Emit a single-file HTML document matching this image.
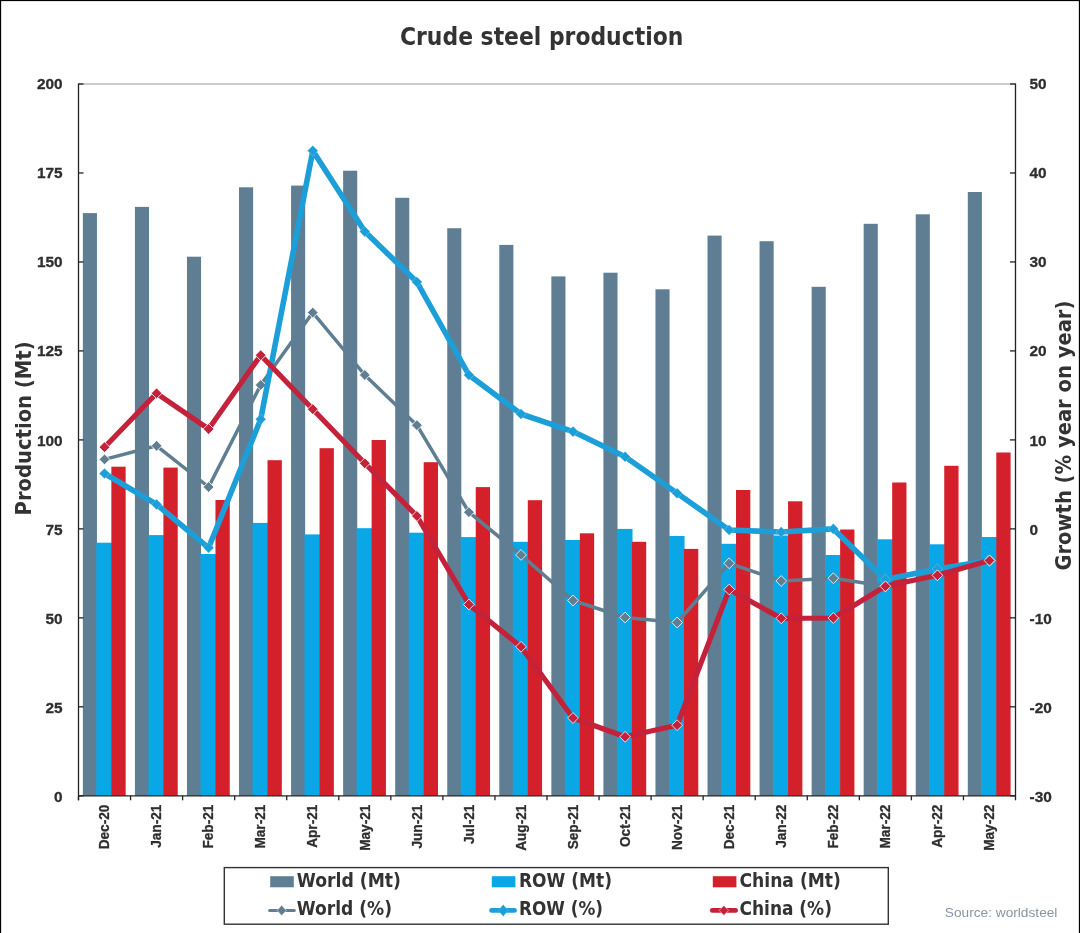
<!DOCTYPE html>
<html lang="en"><head><meta charset="utf-8"><title>Crude steel production</title>
<style>html,body{margin:0;padding:0;background:#fff}body{width:1080px;height:933px;overflow:hidden}svg{display:block}.ax{font-family:"Liberation Sans",sans-serif;font-weight:bold;fill:#2e2e2e;stroke:#2e2e2e;stroke-width:0.3px}.hd{font-family:"DejaVu Sans Condensed","DejaVu Sans",sans-serif;font-weight:bold;fill:#333}</style></head><body>
<svg width="1080" height="933" viewBox="0 0 1080 933">
<rect x="0" y="0" width="1080" height="933" fill="#ffffff"/>
<rect x="0" y="0" width="1.15" height="933" fill="#000"/>
<rect x="0" y="0" width="1080" height="1.1" fill="#000"/>
<rect x="1078.85" y="0" width="1.15" height="933" fill="#000"/>
<text class="hd" x="400" y="45.1" font-size="24.7" textLength="283.3" lengthAdjust="spacingAndGlyphs">Crude steel production</text>
<line x1="78.5" y1="84.0" x2="1015.5" y2="84.0" stroke="#9a9a9a" stroke-width="1.2"/>
<g>
<rect x="82.85" y="213.1" width="14.1" height="582.7" fill="#5f7e94"/>
<rect x="96.35" y="542.7" width="15.6" height="253.1" fill="#09a7e6"/>
<rect x="111.35" y="466.7" width="14.3" height="329.1" fill="#d4202a"/>
<rect x="134.91" y="206.9" width="14.1" height="588.9" fill="#5f7e94"/>
<rect x="148.41" y="535.1" width="15.6" height="260.7" fill="#09a7e6"/>
<rect x="163.41" y="467.6" width="14.3" height="328.2" fill="#d4202a"/>
<rect x="186.96" y="256.7" width="14.1" height="539.1" fill="#5f7e94"/>
<rect x="200.46" y="554" width="15.6" height="241.8" fill="#09a7e6"/>
<rect x="215.46" y="500" width="14.3" height="295.8" fill="#d4202a"/>
<rect x="239.02" y="187.3" width="14.1" height="608.5" fill="#5f7e94"/>
<rect x="252.52" y="522.9" width="15.6" height="272.9" fill="#09a7e6"/>
<rect x="267.52" y="460.2" width="14.3" height="335.6" fill="#d4202a"/>
<rect x="291.07" y="185.6" width="14.1" height="610.2" fill="#5f7e94"/>
<rect x="304.57" y="534.4" width="15.6" height="261.4" fill="#09a7e6"/>
<rect x="319.57" y="448.2" width="14.3" height="347.6" fill="#d4202a"/>
<rect x="343.13" y="170.7" width="14.1" height="625.1" fill="#5f7e94"/>
<rect x="356.63" y="528.2" width="15.6" height="267.6" fill="#09a7e6"/>
<rect x="371.63" y="440" width="14.3" height="355.8" fill="#d4202a"/>
<rect x="395.18" y="197.8" width="14.1" height="598.0" fill="#5f7e94"/>
<rect x="408.68" y="532.7" width="15.6" height="263.1" fill="#09a7e6"/>
<rect x="423.68" y="462.2" width="14.3" height="333.6" fill="#d4202a"/>
<rect x="447.24" y="228.2" width="14.1" height="567.6" fill="#5f7e94"/>
<rect x="460.74" y="537.1" width="15.6" height="258.7" fill="#09a7e6"/>
<rect x="475.74" y="487.1" width="14.3" height="308.7" fill="#d4202a"/>
<rect x="499.29" y="244.9" width="14.1" height="550.9" fill="#5f7e94"/>
<rect x="512.79" y="541.8" width="15.6" height="254.0" fill="#09a7e6"/>
<rect x="527.79" y="500.2" width="14.3" height="295.6" fill="#d4202a"/>
<rect x="551.35" y="276.4" width="14.1" height="519.4" fill="#5f7e94"/>
<rect x="564.85" y="540" width="15.6" height="255.8" fill="#09a7e6"/>
<rect x="579.85" y="533.3" width="14.3" height="262.5" fill="#d4202a"/>
<rect x="603.41" y="272.7" width="14.1" height="523.1" fill="#5f7e94"/>
<rect x="616.91" y="528.9" width="15.6" height="266.9" fill="#09a7e6"/>
<rect x="631.91" y="541.8" width="14.3" height="254.0" fill="#d4202a"/>
<rect x="655.46" y="289.3" width="14.1" height="506.5" fill="#5f7e94"/>
<rect x="668.96" y="536" width="15.6" height="259.8" fill="#09a7e6"/>
<rect x="683.96" y="548.9" width="14.3" height="246.9" fill="#d4202a"/>
<rect x="707.52" y="235.6" width="14.1" height="560.2" fill="#5f7e94"/>
<rect x="721.02" y="543.8" width="15.6" height="252.0" fill="#09a7e6"/>
<rect x="736.02" y="490" width="14.3" height="305.8" fill="#d4202a"/>
<rect x="759.57" y="241.2" width="14.1" height="554.6" fill="#5f7e94"/>
<rect x="773.07" y="535.5" width="15.6" height="260.3" fill="#09a7e6"/>
<rect x="788.07" y="501.3" width="14.3" height="294.5" fill="#d4202a"/>
<rect x="811.63" y="286.8" width="14.1" height="509.0" fill="#5f7e94"/>
<rect x="825.13" y="555" width="15.6" height="240.8" fill="#09a7e6"/>
<rect x="840.13" y="529.5" width="14.3" height="266.3" fill="#d4202a"/>
<rect x="863.68" y="223.8" width="14.1" height="572.0" fill="#5f7e94"/>
<rect x="877.18" y="539.3" width="15.6" height="256.5" fill="#09a7e6"/>
<rect x="892.18" y="482.5" width="14.3" height="313.3" fill="#d4202a"/>
<rect x="915.74" y="214.3" width="14.1" height="581.5" fill="#5f7e94"/>
<rect x="929.24" y="544.3" width="15.6" height="251.5" fill="#09a7e6"/>
<rect x="944.24" y="465.8" width="14.3" height="330.0" fill="#d4202a"/>
<rect x="967.79" y="192.0" width="14.1" height="603.8" fill="#5f7e94"/>
<rect x="981.29" y="537" width="15.6" height="258.8" fill="#09a7e6"/>
<rect x="996.29" y="452.5" width="14.3" height="343.3" fill="#d4202a"/>
</g>
<g stroke="#222" stroke-width="1.3" fill="none">
<line x1="78.5" y1="83.4" x2="78.5" y2="800.3"/>
<line x1="1015.5" y1="83.4" x2="1015.5" y2="796.4"/>
<line x1="78.5" y1="795.8" x2="1015.5" y2="795.8"/>
<line x1="78.5" y1="84.00" x2="83.5" y2="84.00"/>
<line x1="1010.0" y1="84.00" x2="1015.5" y2="84.00"/>
<line x1="78.5" y1="172.97" x2="83.5" y2="172.97"/>
<line x1="1010.0" y1="172.97" x2="1015.5" y2="172.97"/>
<line x1="78.5" y1="261.95" x2="83.5" y2="261.95"/>
<line x1="1010.0" y1="261.95" x2="1015.5" y2="261.95"/>
<line x1="78.5" y1="350.92" x2="83.5" y2="350.92"/>
<line x1="1010.0" y1="350.92" x2="1015.5" y2="350.92"/>
<line x1="78.5" y1="439.90" x2="83.5" y2="439.90"/>
<line x1="1010.0" y1="439.90" x2="1015.5" y2="439.90"/>
<line x1="78.5" y1="528.88" x2="83.5" y2="528.88"/>
<line x1="1010.0" y1="528.88" x2="1015.5" y2="528.88"/>
<line x1="78.5" y1="617.85" x2="83.5" y2="617.85"/>
<line x1="1010.0" y1="617.85" x2="1015.5" y2="617.85"/>
<line x1="78.5" y1="706.82" x2="83.5" y2="706.82"/>
<line x1="1010.0" y1="706.82" x2="1015.5" y2="706.82"/>
<line x1="78.5" y1="795.80" x2="83.5" y2="795.80"/>
<line x1="1010.0" y1="795.80" x2="1015.5" y2="795.80"/>
<line x1="78.50" y1="795.8" x2="78.50" y2="800.3"/>
<line x1="130.56" y1="795.8" x2="130.56" y2="800.3"/>
<line x1="182.61" y1="795.8" x2="182.61" y2="800.3"/>
<line x1="234.67" y1="795.8" x2="234.67" y2="800.3"/>
<line x1="286.72" y1="795.8" x2="286.72" y2="800.3"/>
<line x1="338.78" y1="795.8" x2="338.78" y2="800.3"/>
<line x1="390.83" y1="795.8" x2="390.83" y2="800.3"/>
<line x1="442.89" y1="795.8" x2="442.89" y2="800.3"/>
<line x1="494.94" y1="795.8" x2="494.94" y2="800.3"/>
<line x1="547.00" y1="795.8" x2="547.00" y2="800.3"/>
<line x1="599.06" y1="795.8" x2="599.06" y2="800.3"/>
<line x1="651.11" y1="795.8" x2="651.11" y2="800.3"/>
<line x1="703.17" y1="795.8" x2="703.17" y2="800.3"/>
<line x1="755.22" y1="795.8" x2="755.22" y2="800.3"/>
<line x1="807.28" y1="795.8" x2="807.28" y2="800.3"/>
<line x1="859.33" y1="795.8" x2="859.33" y2="800.3"/>
<line x1="911.39" y1="795.8" x2="911.39" y2="800.3"/>
<line x1="963.44" y1="795.8" x2="963.44" y2="800.3"/>
<line x1="1015.50" y1="795.8" x2="1015.50" y2="800.3"/>
</g>
<polyline points="104.5,459.4 156.6,445.8 208.6,487 260.7,385 312.8,312.6 364.8,375 416.9,425.2 468.9,512.2 521.0,554.9 573.0,600.5 625.1,617.5 677.1,622.5 729.2,563.3 781.2,581 833.3,578.2 885.4,586.3 937.4,575.2 989.5,560.5" fill="none" stroke="#5f7e92" stroke-width="3.5" stroke-linejoin="round" stroke-linecap="round"/>
<path d="M104.5 454.0L109.9 459.4L104.5 464.8L99.1 459.4Z" fill="#5f7e92" stroke="#fff" stroke-opacity="0.8" stroke-width="1.0"/>
<path d="M156.6 440.4L162.0 445.8L156.6 451.2L151.2 445.8Z" fill="#5f7e92" stroke="#fff" stroke-opacity="0.8" stroke-width="1.0"/>
<path d="M208.6 481.6L214.0 487L208.6 492.4L203.2 487Z" fill="#5f7e92" stroke="#fff" stroke-opacity="0.8" stroke-width="1.0"/>
<path d="M260.7 379.6L266.1 385L260.7 390.4L255.3 385Z" fill="#5f7e92" stroke="#fff" stroke-opacity="0.8" stroke-width="1.0"/>
<path d="M312.8 307.2L318.1 312.6L312.8 318.0L307.4 312.6Z" fill="#5f7e92" stroke="#fff" stroke-opacity="0.8" stroke-width="1.0"/>
<path d="M364.8 369.6L370.2 375L364.8 380.4L359.4 375Z" fill="#5f7e92" stroke="#fff" stroke-opacity="0.8" stroke-width="1.0"/>
<path d="M416.9 419.8L422.3 425.2L416.9 430.6L411.5 425.2Z" fill="#5f7e92" stroke="#fff" stroke-opacity="0.8" stroke-width="1.0"/>
<path d="M468.9 506.8L474.3 512.2L468.9 517.6L463.5 512.2Z" fill="#5f7e92" stroke="#fff" stroke-opacity="0.8" stroke-width="1.0"/>
<path d="M521.0 549.5L526.4 554.9L521.0 560.3L515.6 554.9Z" fill="#5f7e92" stroke="#fff" stroke-opacity="0.8" stroke-width="1.0"/>
<path d="M573.0 595.1L578.4 600.5L573.0 605.9L567.6 600.5Z" fill="#5f7e92" stroke="#fff" stroke-opacity="0.8" stroke-width="1.0"/>
<path d="M625.1 612.1L630.5 617.5L625.1 622.9L619.7 617.5Z" fill="#5f7e92" stroke="#fff" stroke-opacity="0.8" stroke-width="1.0"/>
<path d="M677.1 617.1L682.5 622.5L677.1 627.9L671.7 622.5Z" fill="#5f7e92" stroke="#fff" stroke-opacity="0.8" stroke-width="1.0"/>
<path d="M729.2 557.9L734.6 563.3L729.2 568.7L723.8 563.3Z" fill="#5f7e92" stroke="#fff" stroke-opacity="0.8" stroke-width="1.0"/>
<path d="M781.2 575.6L786.6 581L781.2 586.4L775.9 581Z" fill="#5f7e92" stroke="#fff" stroke-opacity="0.8" stroke-width="1.0"/>
<path d="M833.3 572.8L838.7 578.2L833.3 583.6L827.9 578.2Z" fill="#5f7e92" stroke="#fff" stroke-opacity="0.8" stroke-width="1.0"/>
<path d="M885.4 580.9L890.8 586.3L885.4 591.7L880.0 586.3Z" fill="#5f7e92" stroke="#fff" stroke-opacity="0.8" stroke-width="1.0"/>
<path d="M937.4 569.8L942.8 575.2L937.4 580.6L932.0 575.2Z" fill="#5f7e92" stroke="#fff" stroke-opacity="0.8" stroke-width="1.0"/>
<path d="M989.5 555.1L994.9 560.5L989.5 565.9L984.1 560.5Z" fill="#5f7e92" stroke="#fff" stroke-opacity="0.8" stroke-width="1.0"/>
<polyline points="104.5,473.5 156.6,504.4 208.6,547.8 260.7,419.3 312.8,150.7 364.8,231.6 416.9,282 468.9,375 521.0,414 573.0,431.6 625.1,456.7 677.1,493.3 729.2,530 781.2,532 833.3,528.9 885.4,579.5 937.4,569 989.5,560.5" fill="none" stroke="#1c9fd9" stroke-width="5.6" stroke-linejoin="round" stroke-linecap="round"/>
<path d="M104.5 468.2L109.8 473.5L104.5 478.8L99.2 473.5Z" fill="#1c9fd9" stroke="#fff" stroke-opacity="0.35" stroke-width="0.6"/>
<path d="M156.6 499.1L161.9 504.4L156.6 509.7L151.3 504.4Z" fill="#1c9fd9" stroke="#fff" stroke-opacity="0.35" stroke-width="0.6"/>
<path d="M208.6 542.5L213.9 547.8L208.6 553.1L203.3 547.8Z" fill="#1c9fd9" stroke="#fff" stroke-opacity="0.35" stroke-width="0.6"/>
<path d="M260.7 414.0L266.0 419.3L260.7 424.6L255.4 419.3Z" fill="#1c9fd9" stroke="#fff" stroke-opacity="0.35" stroke-width="0.6"/>
<path d="M312.8 145.4L318.1 150.7L312.8 156.0L307.4 150.7Z" fill="#1c9fd9" stroke="#fff" stroke-opacity="0.35" stroke-width="0.6"/>
<path d="M364.8 226.3L370.1 231.6L364.8 236.9L359.5 231.6Z" fill="#1c9fd9" stroke="#fff" stroke-opacity="0.35" stroke-width="0.6"/>
<path d="M416.9 276.7L422.2 282L416.9 287.3L411.6 282Z" fill="#1c9fd9" stroke="#fff" stroke-opacity="0.35" stroke-width="0.6"/>
<path d="M468.9 369.7L474.2 375L468.9 380.3L463.6 375Z" fill="#1c9fd9" stroke="#fff" stroke-opacity="0.35" stroke-width="0.6"/>
<path d="M521.0 408.7L526.3 414L521.0 419.3L515.7 414Z" fill="#1c9fd9" stroke="#fff" stroke-opacity="0.35" stroke-width="0.6"/>
<path d="M573.0 426.3L578.3 431.6L573.0 436.9L567.7 431.6Z" fill="#1c9fd9" stroke="#fff" stroke-opacity="0.35" stroke-width="0.6"/>
<path d="M625.1 451.4L630.4 456.7L625.1 462.0L619.8 456.7Z" fill="#1c9fd9" stroke="#fff" stroke-opacity="0.35" stroke-width="0.6"/>
<path d="M677.1 488.0L682.4 493.3L677.1 498.6L671.8 493.3Z" fill="#1c9fd9" stroke="#fff" stroke-opacity="0.35" stroke-width="0.6"/>
<path d="M729.2 524.7L734.5 530L729.2 535.3L723.9 530Z" fill="#1c9fd9" stroke="#fff" stroke-opacity="0.35" stroke-width="0.6"/>
<path d="M781.2 526.7L786.5 532L781.2 537.3L776.0 532Z" fill="#1c9fd9" stroke="#fff" stroke-opacity="0.35" stroke-width="0.6"/>
<path d="M833.3 523.6L838.6 528.9L833.3 534.2L828.0 528.9Z" fill="#1c9fd9" stroke="#fff" stroke-opacity="0.35" stroke-width="0.6"/>
<path d="M885.4 574.2L890.7 579.5L885.4 584.8L880.1 579.5Z" fill="#1c9fd9" stroke="#fff" stroke-opacity="0.35" stroke-width="0.6"/>
<path d="M937.4 563.7L942.7 569L937.4 574.3L932.1 569Z" fill="#1c9fd9" stroke="#fff" stroke-opacity="0.35" stroke-width="0.6"/>
<path d="M989.5 555.2L994.8 560.5L989.5 565.8L984.2 560.5Z" fill="#1c9fd9" stroke="#fff" stroke-opacity="0.35" stroke-width="0.6"/>
<polyline points="104.5,447.2 156.6,393.3 208.6,429 260.7,355.2 312.8,409.2 364.8,463.3 416.9,516 468.9,604.5 521.0,646.8 573.0,718 625.1,736.8 677.1,725.2 729.2,589.5 781.2,618.3 833.3,618 885.4,586.3 937.4,575.3 989.5,560.5" fill="none" stroke="#c4213a" stroke-width="5.2" stroke-linejoin="round" stroke-linecap="round"/>
<path d="M104.5 441.8L109.9 447.2L104.5 452.6L99.1 447.2Z" fill="#c4213a" stroke="#fff" stroke-opacity="0.8" stroke-width="1.0"/>
<path d="M156.6 387.9L162.0 393.3L156.6 398.7L151.2 393.3Z" fill="#c4213a" stroke="#fff" stroke-opacity="0.8" stroke-width="1.0"/>
<path d="M208.6 423.6L214.0 429L208.6 434.4L203.2 429Z" fill="#c4213a" stroke="#fff" stroke-opacity="0.8" stroke-width="1.0"/>
<path d="M260.7 349.8L266.1 355.2L260.7 360.6L255.3 355.2Z" fill="#c4213a" stroke="#fff" stroke-opacity="0.8" stroke-width="1.0"/>
<path d="M312.8 403.8L318.1 409.2L312.8 414.6L307.4 409.2Z" fill="#c4213a" stroke="#fff" stroke-opacity="0.8" stroke-width="1.0"/>
<path d="M364.8 457.9L370.2 463.3L364.8 468.7L359.4 463.3Z" fill="#c4213a" stroke="#fff" stroke-opacity="0.8" stroke-width="1.0"/>
<path d="M416.9 510.6L422.3 516L416.9 521.4L411.5 516Z" fill="#c4213a" stroke="#fff" stroke-opacity="0.8" stroke-width="1.0"/>
<path d="M468.9 599.1L474.3 604.5L468.9 609.9L463.5 604.5Z" fill="#c4213a" stroke="#fff" stroke-opacity="0.8" stroke-width="1.0"/>
<path d="M521.0 641.4L526.4 646.8L521.0 652.2L515.6 646.8Z" fill="#c4213a" stroke="#fff" stroke-opacity="0.8" stroke-width="1.0"/>
<path d="M573.0 712.6L578.4 718L573.0 723.4L567.6 718Z" fill="#c4213a" stroke="#fff" stroke-opacity="0.8" stroke-width="1.0"/>
<path d="M625.1 731.4L630.5 736.8L625.1 742.2L619.7 736.8Z" fill="#c4213a" stroke="#fff" stroke-opacity="0.8" stroke-width="1.0"/>
<path d="M677.1 719.8L682.5 725.2L677.1 730.6L671.7 725.2Z" fill="#c4213a" stroke="#fff" stroke-opacity="0.8" stroke-width="1.0"/>
<path d="M729.2 584.1L734.6 589.5L729.2 594.9L723.8 589.5Z" fill="#c4213a" stroke="#fff" stroke-opacity="0.8" stroke-width="1.0"/>
<path d="M781.2 612.9L786.6 618.3L781.2 623.7L775.9 618.3Z" fill="#c4213a" stroke="#fff" stroke-opacity="0.8" stroke-width="1.0"/>
<path d="M833.3 612.6L838.7 618L833.3 623.4L827.9 618Z" fill="#c4213a" stroke="#fff" stroke-opacity="0.8" stroke-width="1.0"/>
<path d="M885.4 580.9L890.8 586.3L885.4 591.7L880.0 586.3Z" fill="#c4213a" stroke="#fff" stroke-opacity="0.8" stroke-width="1.0"/>
<path d="M937.4 569.9L942.8 575.3L937.4 580.7L932.0 575.3Z" fill="#c4213a" stroke="#fff" stroke-opacity="0.8" stroke-width="1.0"/>
<path d="M989.5 555.1L994.9 560.5L989.5 565.9L984.1 560.5Z" fill="#c4213a" stroke="#fff" stroke-opacity="0.8" stroke-width="1.0"/>
<g class="ax" font-size="15.4">
<text x="62.6" y="88.8" text-anchor="end">200</text>
<text x="62.6" y="178.0" text-anchor="end">175</text>
<text x="62.6" y="267.1" text-anchor="end">150</text>
<text x="62.6" y="356.3" text-anchor="end">125</text>
<text x="62.6" y="445.5" text-anchor="end">100</text>
<text x="62.6" y="534.6" text-anchor="end">75</text>
<text x="62.6" y="623.8" text-anchor="end">50</text>
<text x="62.6" y="713.0" text-anchor="end">25</text>
<text x="62.6" y="802.2" text-anchor="end">0</text>
<text x="1029.5" y="88.8">50</text>
<text x="1029.5" y="178.0">40</text>
<text x="1029.5" y="267.1">30</text>
<text x="1029.5" y="356.3">20</text>
<text x="1029.5" y="445.5">10</text>
<text x="1029.5" y="534.6">0</text>
<text x="1029.5" y="623.8">-10</text>
<text x="1029.5" y="713.0">-20</text>
<text x="1029.5" y="802.2">-30</text>
</g>
<g class="ax" font-size="14.3">
<text transform="translate(109.2 804.6) rotate(-90) scale(0.955 1)" text-anchor="end">Dec-20</text>
<text transform="translate(161.3 804.6) rotate(-90) scale(0.955 1)" text-anchor="end">Jan-21</text>
<text transform="translate(213.3 804.6) rotate(-90) scale(0.955 1)" text-anchor="end">Feb-21</text>
<text transform="translate(265.4 804.6) rotate(-90) scale(0.955 1)" text-anchor="end">Mar-21</text>
<text transform="translate(317.4 804.6) rotate(-90) scale(0.955 1)" text-anchor="end">Apr-21</text>
<text transform="translate(369.5 804.6) rotate(-90) scale(0.955 1)" text-anchor="end">May-21</text>
<text transform="translate(421.6 804.6) rotate(-90) scale(0.955 1)" text-anchor="end">Jun-21</text>
<text transform="translate(473.6 804.6) rotate(-90) scale(0.955 1)" text-anchor="end">Jul-21</text>
<text transform="translate(525.7 804.6) rotate(-90) scale(0.955 1)" text-anchor="end">Aug-21</text>
<text transform="translate(577.7 804.6) rotate(-90) scale(0.955 1)" text-anchor="end">Sep-21</text>
<text transform="translate(629.8 804.6) rotate(-90) scale(0.955 1)" text-anchor="end">Oct-21</text>
<text transform="translate(681.8 804.6) rotate(-90) scale(0.955 1)" text-anchor="end">Nov-21</text>
<text transform="translate(733.9 804.6) rotate(-90) scale(0.955 1)" text-anchor="end">Dec-21</text>
<text transform="translate(786.0 804.6) rotate(-90) scale(0.955 1)" text-anchor="end">Jan-22</text>
<text transform="translate(838.0 804.6) rotate(-90) scale(0.955 1)" text-anchor="end">Feb-22</text>
<text transform="translate(890.1 804.6) rotate(-90) scale(0.955 1)" text-anchor="end">Mar-22</text>
<text transform="translate(942.1 804.6) rotate(-90) scale(0.955 1)" text-anchor="end">Apr-22</text>
<text transform="translate(994.2 804.6) rotate(-90) scale(0.955 1)" text-anchor="end">May-22</text>
</g>
<text class="hd" font-size="21" transform="translate(31.4 515.4) rotate(-90)" textLength="174" lengthAdjust="spacingAndGlyphs">Production (Mt)</text>
<text class="hd" font-size="21" transform="translate(1071.4 570.6) rotate(-90)" textLength="270" lengthAdjust="spacingAndGlyphs">Growth (% year on year)</text>
<rect x="224.3" y="867.6" width="664" height="56.6" fill="#fff" stroke="#333" stroke-width="1.4"/>
<rect x="270.2" y="876.2" width="23.6" height="11.1" fill="#5f7e94"/>
<text class="hd" font-size="18.9" x="296.8" y="887.2" textLength="104.2" lengthAdjust="spacingAndGlyphs">World (Mt)</text>
<line x1="269.6" y1="910.4" x2="294.3" y2="910.4" stroke="#5f7e92" stroke-width="3.0" stroke-linecap="round"/>
<path d="M281.7 905.1999999999999L286.4 910.4L281.7 915.6L277.0 910.4Z" fill="#5f7e92" stroke="#fff" stroke-opacity="0.55" stroke-width="0.9"/>
<text class="hd" font-size="18.9" x="296.8" y="915.4" textLength="95.2" lengthAdjust="spacingAndGlyphs">World (%)</text>
<rect x="491.8" y="876.2" width="23.6" height="11.1" fill="#09a7e6"/>
<text class="hd" font-size="18.9" x="519.0" y="887.2" textLength="93" lengthAdjust="spacingAndGlyphs">ROW (Mt)</text>
<line x1="491.65" y1="910.4" x2="514.4499999999999" y2="910.4" stroke="#1c9fd9" stroke-width="4.9" stroke-linecap="round"/>
<path d="M503.2 904.4L508.2 910.4L503.2 916.4L498.2 910.4Z" fill="#1c9fd9" stroke="#fff" stroke-opacity="0.15" stroke-width="0.9"/>
<text class="hd" font-size="18.9" x="519.0" y="915.4" textLength="84" lengthAdjust="spacingAndGlyphs">ROW (%)</text>
<rect x="712.8" y="876.2" width="23.6" height="11.1" fill="#d4202a"/>
<text class="hd" font-size="18.9" x="739.5" y="887.2" textLength="101.3" lengthAdjust="spacingAndGlyphs">China (Mt)</text>
<line x1="712.3" y1="910.4" x2="735.6" y2="910.4" stroke="#c4213a" stroke-width="4.8" stroke-linecap="round"/>
<path d="M723.9 905.4L728.6 910.4L723.9 915.4L719.2 910.4Z" fill="#c4213a" stroke="#fff" stroke-opacity="0.55" stroke-width="0.9"/>
<text class="hd" font-size="18.9" x="739.5" y="915.4" textLength="92.4" lengthAdjust="spacingAndGlyphs">China (%)</text>
<text x="944.8" y="916.7" font-family="&quot;Liberation Sans&quot;,sans-serif" font-size="13.7" fill="#8896a3">Source: worldsteel</text>
</svg></body></html>
